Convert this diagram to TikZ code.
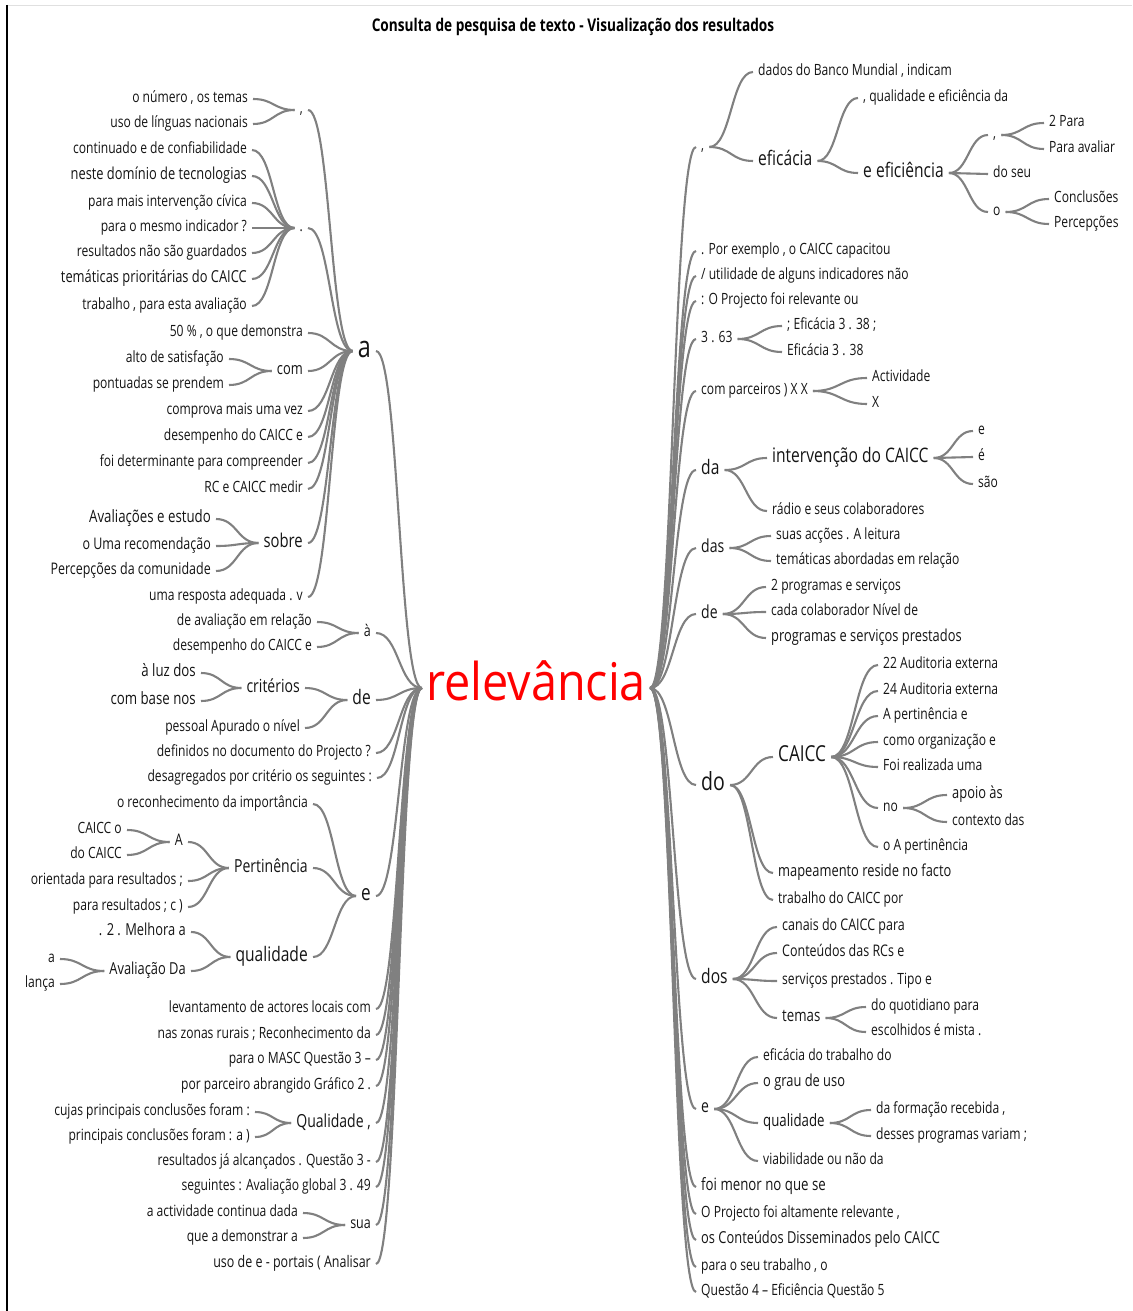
\documentclass[tikz,border=0pt]{standalone}
\usepackage{fontspec}
\setmainfont{Open Sans}[FakeStretch=0.78]
\newfontfamily\rootfont{Open Sans}[FakeStretch=0.9]
\usetikzlibrary{positioning,calc}
\tikzstyle{every node}=[inner xsep=5pt, inner ysep=0pt, text=black!92, execute at begin node=\strut, font=\fontsize{15.5}{15.5}\selectfont]
\tikzstyle{lw}=[anchor=east]
\tikzstyle{rw}=[anchor=west]
\tikzstyle{link}=[draw=black!50, line width=2.1pt]
\tikzset{fs/.style={font=\fontsize{#1}{#1}\selectfont}}
\newcommand{\wire}[2]{\draw[link] let \p1=(#1), \p2=(#2), \n1={(\x1+\x2)/2} in (\p1) .. controls (\n1,\y1) and (\n1,\y2) .. (\p2)}

\begin{document}
\begin{tikzpicture}[x=1pt,y=-1pt]
  \useasboundingbox (0,0) rectangle (1132,1311);
  \draw[black!12] (7,5) -- (1132,5);
  \draw[black, line width=1.2pt] (7,5) -- (7,1311);
  \node[text=black, font=\bfseries\fontsize{17.5}{17.5}\selectfont] (title) at (573,27) {Consulta de pesquisa de texto - Visualização dos resultados};
  \node[text=red, font=\rootfont\fontsize{52}{52}\selectfont, inner xsep=4pt, execute at begin node={}] (rel) at (536,688) {relevância};

  % left side
  \node[lw,fs=30] (la) at (376,351) {a};
  \node[lw,fs=16] (lagr) at (376,633) {à};
  \node[lw,fs=20] (lde) at (376,700) {de};
  \node[lw] (ldef) at (376,753) {definidos no documento do Projecto ?};
  \node[lw] (ldes) at (377,778) {desagregados por critério os seguintes :};
  \node[lw,fs=22] (le) at (376,896) {e};
  \node[lw] (llev) at (376,1009) {levantamento de actores locais com};
  \node[lw] (lnas) at (376,1035) {nas zonas rurais ; Reconhecimento da};
  \node[lw] (lmasc) at (376,1060) {para o MASC Questão 3 –};
  \node[lw] (lpor) at (376,1086) {por parceiro abrangido Gráfico 2 .};
  \node[lw,fs=18] (lqua) at (376,1123) {Qualidade ,};
  \node[lw] (lres) at (376,1162) {resultados já alcançados . Questão 3 -};
  \node[lw] (lseg) at (376,1187) {seguintes : Avaliação global 3 . 49};
  \node[lw,fs=16] (lsua) at (376,1225) {sua};
  \node[lw,fs=16] (luso) at (376,1264) {uso de e - portais ( Analisar};

  \node[lw] (lcm) at (308,110) {,};
  \node[lw] (ldt) at (308,228) {.};
  \node[lw] (l50) at (308,333) {50 \% , o que demonstra};
  \node[lw,fs=16.5] (lcom) at (308,371) {com};
  \node[lw] (lcomp) at (308,411) {comprova mais uma vez};
  \node[lw] (ldesa) at (308,437) {desempenho do CAICC e};
  \node[lw] (lfoi) at (308,463) {foi determinante para compreender};
  \node[lw] (lrc) at (308,489) {RC e CAICC medir};
  \node[lw,fs=19] (lsob) at (308,543) {sobre};
  \node[lw] (luma) at (308,597) {uma resposta adequada . v};

  \node[lw] (lnum) at (253,99) {o número , os temas};
  \node[lw] (lling) at (253,124) {uso de línguas nacionais};
  \node[lw] (lcont) at (252,150) {continuado e de confiabilidade};
  \node[lw,fs=16.5] (lnes) at (252,176) {neste domínio de tecnologias};
  \node[lw] (lciv) at (252,203) {para mais intervenção cívica};
  \node[lw] (lind) at (252,228) {para o mesmo indicador ?};
  \node[lw] (lgua) at (252,253) {resultados não são guardados};
  \node[lw,fs=16.5] (ltem) at (252,279) {temáticas prioritárias do CAICC};
  \node[lw] (ltra) at (252,306) {trabalho , para esta avaliação};
  \node[lw] (lalt) at (229,359) {alto de satisfação};
  \node[lw] (lpon) at (229,385) {pontuadas se prendem};
  \node[lw,fs=17] (lavs) at (216,519) {Avaliações e estudo};
  \node[lw,fs=16] (luma2) at (216,546) {o Uma recomendação};
  \node[lw,fs=16] (lper2) at (216,571) {Percepções da comunidade};

  \node[lw] (ldav) at (317,622) {de avaliação em relação};
  \node[lw] (ldes2) at (317,647) {desempenho do CAICC e};
  \node[lw,fs=18] (lcrit) at (305,688) {critérios};
  \node[lw] (lpes) at (305,728) {pessoal Apurado o nível};
  \node[lw,fs=17] (lluz) at (201,673) {à luz dos};
  \node[lw,fs=17] (lbas) at (201,701) {com base nos};

  \node[lw] (lrec) at (313,804) {o reconhecimento da importância};
  \node[lw,fs=18] (lpert) at (313,868) {Pertinência};
  \node[lw,fs=20] (lqal) at (313,957) {qualidade};
  \node[lw,fs=16] (lA) at (188,842) {A};
  \node[lw] (lori) at (188,881) {orientada para resultados ;};
  \node[lw] (lprc) at (188,907) {para resultados ; c )};
  \node[lw] (lcao) at (127,830) {CAICC o};
  \node[lw] (ldca) at (127,855) {do CAICC};
  \node[lw,fs=16.5] (lmel) at (191,932) {. 2 . Melhora a};
  \node[lw,fs=16.5] (lavd) at (191,971) {Avaliação Da};
  \node[lw] (la2) at (60,959) {a};
  \node[lw] (llan) at (60,984) {lança};
  \node[lw] (lcuj) at (255,1112) {cujas principais conclusões foram :};
  \node[lw] (lpri) at (255,1137) {principais conclusões foram : a )};
  \node[lw] (lact) at (303,1213) {a actividade continua dada};
  \node[lw] (ldem) at (303,1238) {que a demonstrar a};

  % right side
  \node[rw] (rcm) at (696,147) {,};
  \node[rw] (rpor) at (696,251) {. Por exemplo , o CAICC capacitou};
  \node[rw] (rutil) at (696,276) {/ utilidade de alguns indicadores não};
  \node[rw] (rproj) at (696,301) {: O Projecto foi relevante ou};
  \node[rw] (r363) at (696,339) {3 . 63};
  \node[rw] (rpar) at (696,391) {com parceiros ) X X};
  \node[rw,fs=20] (rda) at (696,470) {da};
  \node[rw,fs=18] (rdas) at (696,548) {das};
  \node[rw,fs=18] (rde) at (696,614) {de};
  \node[rw,fs=25] (rdo) at (696,785) {do};
  \node[rw,fs=20] (rdos) at (696,979) {dos};
  \node[rw,fs=18] (re) at (696,1109) {e};
  \node[rw,fs=17] (rmen) at (696,1187) {foi menor no que se};
  \node[rw] (rpro) at (696,1214) {O Projecto foi altamente relevante ,};
  \node[rw,fs=16.5] (rcon) at (696,1240) {os Conteúdos Disseminados pelo CAICC};
  \node[rw] (rpara) at (696,1267) {para o seu trabalho , o};
  \node[rw] (rq4) at (696,1292) {Questão 4 – Eficiência Questão 5};

  \node[rw] (rban) at (753,72) {dados do Banco Mundial , indicam};
  \node[rw,fs=20] (reff) at (753,161) {eficácia};
  \node[rw] (rqe) at (858,98) {, qualidade e eficiência da};
  \node[rw,fs=20] (ree) at (858,173) {e eficiência};
  \node[rw] (rc2) at (988,135) {,};
  \node[rw] (rseu) at (988,174) {do seu};
  \node[rw] (ro) at (988,212) {o};
  \node[rw] (r2p) at (1044,123) {2 Para};
  \node[rw] (rpav) at (1044,149) {Para avaliar};
  \node[rw] (rconc) at (1049,199) {Conclusões};
  \node[rw] (rperc) at (1049,224) {Percepções};
  \node[rw] (ref1) at (782,326) {; Eficácia 3 . 38 ;};
  \node[rw] (ref2) at (782,352) {Eficácia 3 . 38};
  \node[rw] (ract) at (867,378) {Actividade};
  \node[rw] (rx) at (867,404) {X};
  \node[rw,fs=20] (rint) at (767,458) {intervenção do CAICC};
  \node[rw] (rrad) at (767,511) {rádio e seus colaboradores};
  \node[rw] (re1) at (973,431) {e};
  \node[rw] (re2) at (973,457) {é};
  \node[rw] (re3) at (973,484) {são};
  \node[rw] (racc) at (771,536) {suas acções . A leitura};
  \node[rw] (rtab) at (771,561) {temáticas abordadas em relação};
  \node[rw] (r2pr) at (766,587) {2 programas e serviços};
  \node[rw] (rcad) at (766,612) {cada colaborador Nível de};
  \node[rw,fs=16.5] (rpsp) at (766,638) {programas e serviços prestados};
  \node[rw,fs=22] (rcai) at (773,757) {CAICC};
  \node[rw,fs=16.5] (rmap) at (773,873) {mapeamento reside no facto};
  \node[rw] (rtrab) at (773,900) {trabalho do CAICC por};
  \node[rw] (raud1) at (878,665) {22 Auditoria externa};
  \node[rw] (raud2) at (878,691) {24 Auditoria externa};
  \node[rw] (rpe) at (878,716) {A pertinência e};
  \node[rw] (rorg) at (878,742) {como organização e};
  \node[rw] (rfoi) at (878,767) {Foi realizada uma};
  \node[rw] (rno) at (878,808) {no};
  \node[rw] (roap) at (878,847) {o A pertinência};
  \node[rw,fs=16.5] (rapo) at (947,795) {apoio às};
  \node[rw] (rctx) at (947,822) {contexto das};
  \node[rw,fs=16] (rcan) at (777,927) {canais do CAICC para};
  \node[rw,fs=16] (rrcs) at (777,953) {Conteúdos das RCs e};
  \node[rw] (rsrv) at (777,981) {serviços prestados . Tipo e};
  \node[rw,fs=17] (rtem) at (777,1018) {temas};
  \node[rw] (rquo) at (866,1007) {do quotidiano para};
  \node[rw] (resc) at (866,1032) {escolhidos é mista .};
  \node[rw] (reft) at (758,1057) {eficácia do trabalho do};
  \node[rw,fs=16.5] (rgra) at (758,1083) {o grau de uso};
  \node[rw,fs=17] (rqa) at (758,1123) {qualidade};
  \node[rw] (rvia) at (758,1161) {viabilidade ou não da};
  \node[rw] (rfor) at (871,1110) {da formação recebida ,};
  \node[rw] (rdpv) at (871,1136) {desses programas variam ;};

  % connectors
  \foreach \k in {la,lagr,lde,ldef,ldes,le,llev,lnas,lmasc,lpor,lqua,lres,lseg,lsua,luso}
    {\wire{\k.east}{rel.west};}
  \foreach \k in {lcm,ldt,l50,lcom,lcomp,ldesa,lfoi,lrc,lsob,luma}
    {\wire{\k.east}{la.west};}
  \foreach \k in {lnum,lling} {\wire{\k.east}{lcm.west};}
  \foreach \k in {lcont,lnes,lciv,lind,lgua,ltem,ltra} {\wire{\k.east}{ldt.west};}
  \foreach \k in {lalt,lpon} {\wire{\k.east}{lcom.west};}
  \foreach \k in {lavs,luma2,lper2} {\wire{\k.east}{lsob.west};}
  \foreach \k in {ldav,ldes2} {\wire{\k.east}{lagr.west};}
  \foreach \k in {lcrit,lpes} {\wire{\k.east}{lde.west};}
  \foreach \k in {lluz,lbas} {\wire{\k.east}{lcrit.west};}
  \foreach \k in {lrec,lpert,lqal} {\wire{\k.east}{le.west};}
  \foreach \k in {lA,lori,lprc} {\wire{\k.east}{lpert.west};}
  \foreach \k in {lcao,ldca} {\wire{\k.east}{lA.west};}
  \foreach \k in {lmel,lavd} {\wire{\k.east}{lqal.west};}
  \foreach \k in {la2,llan} {\wire{\k.east}{lavd.west};}
  \foreach \k in {lcuj,lpri} {\wire{\k.east}{lqua.west};}
  \foreach \k in {lact,ldem} {\wire{\k.east}{lsua.west};}

  \foreach \k in {rcm,rpor,rutil,rproj,r363,rpar,rda,rdas,rde,rdo,rdos,re,rmen,rpro,rcon,rpara,rq4}
    {\wire{rel.east}{\k.west};}
  \foreach \k in {rban,reff} {\wire{rcm.east}{\k.west};}
  \foreach \k in {rqe,ree} {\wire{reff.east}{\k.west};}
  \foreach \k in {rc2,rseu,ro} {\wire{ree.east}{\k.west};}
  \foreach \k in {r2p,rpav} {\wire{rc2.east}{\k.west};}
  \foreach \k in {rconc,rperc} {\wire{ro.east}{\k.west};}
  \foreach \k in {ref1,ref2} {\wire{r363.east}{\k.west};}
  \foreach \k in {ract,rx} {\wire{rpar.east}{\k.west};}
  \foreach \k in {rint,rrad} {\wire{rda.east}{\k.west};}
  \foreach \k in {re1,re2,re3} {\wire{rint.east}{\k.west};}
  \foreach \k in {racc,rtab} {\wire{rdas.east}{\k.west};}
  \foreach \k in {r2pr,rcad,rpsp} {\wire{rde.east}{\k.west};}
  \foreach \k in {rcai,rmap,rtrab} {\wire{rdo.east}{\k.west};}
  \foreach \k in {raud1,raud2,rpe,rorg,rfoi,rno,roap} {\wire{rcai.east}{\k.west};}
  \foreach \k in {rapo,rctx} {\wire{rno.east}{\k.west};}
  \foreach \k in {rcan,rrcs,rsrv,rtem} {\wire{rdos.east}{\k.west};}
  \foreach \k in {rquo,resc} {\wire{rtem.east}{\k.west};}
  \foreach \k in {reft,rgra,rqa,rvia} {\wire{re.east}{\k.west};}
  \foreach \k in {rfor,rdpv} {\wire{rqa.east}{\k.west};}
\end{tikzpicture}
\end{document}
